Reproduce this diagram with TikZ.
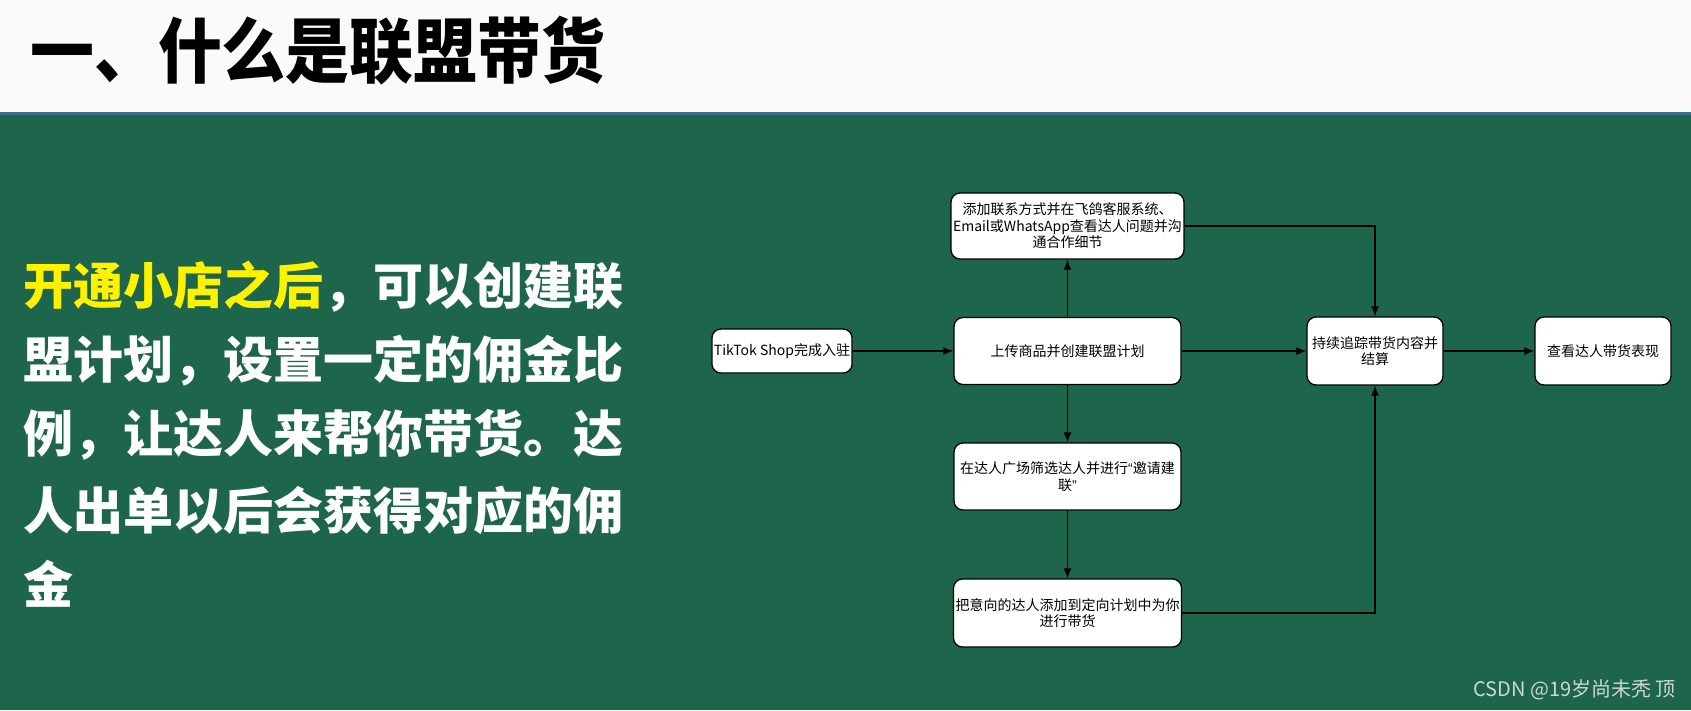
\documentclass[tikz,border=0pt]{standalone}
\usepackage{fontspec}
\usepackage{graphicx}
\usetikzlibrary{arrows.meta,positioning}
\newfontfamily\cjk{Noto Sans CJK SC}
\newfontfamily\latinsans{Liberation Sans}
\definecolor{boardgreen}{RGB}{29,101,75}
\definecolor{headwhite}{RGB}{250,250,250}
\definecolor{headrule}{RGB}{62,108,146}
\definecolor{hiyellow}{RGB}{255,242,0}
\definecolor{markgrey}{RGB}{205,214,209}
\newcommand{\titlefont}{\cjk\bfseries\fontsize{71}{71}\selectfont}
\newcommand{\leadfont}{\cjk\bfseries\fontsize{50}{50}\selectfont}
\newcommand{\boxquote}[1]{{\latinsans #1}}
\tikzset{
  flowbox/.style={draw=black, fill=white, line width=1.3pt, rounded corners=9pt,
    align=center, inner sep=2pt, font=\cjk\fontsize{14}{16.5}\selectfont},
  flowarrow/.style={line width=1.4pt, -{Latex[length=10pt,width=8pt]}},
  leadline/.style={anchor=west, inner sep=0pt, text=white, font=\leadfont},
}
\begin{document}
\begin{tikzpicture}[x=1pt,y=-1pt]
  \useasboundingbox (0,0) rectangle (1691,710);
  \fill[headwhite] (0,0) rectangle (1691,112);
  \fill[headrule] (0,112) rectangle (1691,115);
  \fill[boardgreen] (0,115) rectangle (1691,710);
  % title
  \node[anchor=west, inner sep=0pt, font=\titlefont] (title) at (30,50.5)
    {\scalebox{0.9}[1]{一、什么是联盟带货}};
  % left text
  \node[leadline] (l1) at (23,287) {\textcolor{hiyellow}{开通小店之后}，可以创建联};
  \node[leadline] (l2) at (23,361) {盟计划，设置一定的佣金比};
  \node[leadline] (l3) at (23,435) {例，让达人来帮你带货。达};
  \node[leadline] (l4) at (23,510) {人出单以后会获得对应的佣};
  \node[leadline] (l5) at (23,584) {金};
  % flow
  \node[flowbox, minimum width=136, minimum height=44] (shop) at (782,351) {TikTok Shop完成入驻};
  \node[flowbox, minimum width=227, minimum height=67] (upload) at (1067.5,351) {上传商品并创建联盟计划};
  \node[flowbox, minimum width=227, minimum height=66] (contact) at (1067.5,226)
    {添加联系方式并在飞鸽客服系统、\\Email或WhatsApp查看达人问题并沟\\通合作细节};
  \node[flowbox, minimum width=227, minimum height=67] (square) at (1067.5,476.5)
    {在达人广场筛选达人并进行\boxquote{“}邀请建\\联\boxquote{”}};
  \node[flowbox, minimum width=227, minimum height=68] (target) at (1067.5,613)
    {把意向的达人添加到定向计划中为你\\进行带货};
  \node[flowbox, minimum width=136, minimum height=68] (track) at (1375,351) {持续追踪带货内容并\\结算};
  \node[flowbox, minimum width=136, minimum height=68] (view) at (1603,351) {查看达人带货表现};
  \draw[flowarrow] (shop) -- (upload);
  \draw[flowarrow] (upload) -- (contact);
  \draw[flowarrow] (upload) -- (square);
  \draw[flowarrow] (square) -- (target);
  \draw[flowarrow] (upload) -- (track);
  \draw[flowarrow] (track) -- (view);
  \draw[flowarrow] (contact) -| (track);
  \draw[flowarrow] (target) -| (track);
  % watermark
  \node[anchor=east, inner sep=0pt, text=markgrey, font=\cjk\fontsize{20}{20}\selectfont] (mark) at (1676,690)
    {CSDN @19岁尚未秃 顶};
\end{tikzpicture}
\end{document}
